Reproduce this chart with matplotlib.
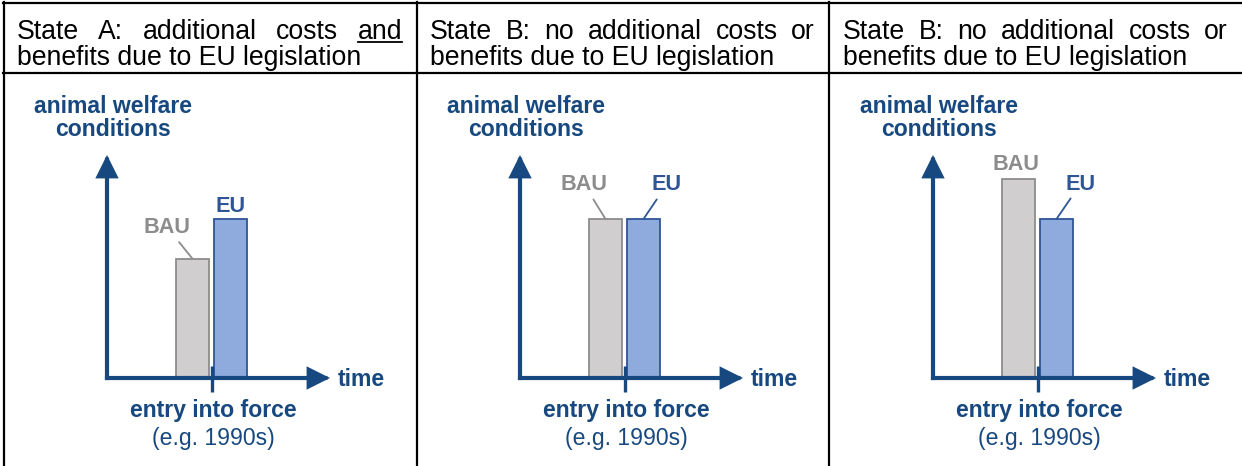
import matplotlib
matplotlib.use('Agg')
import matplotlib.pyplot as plt

plt.rcParams['font.family'] = ['Liberation Sans', 'DejaVu Sans']

# ------ DATA -------
HEAD_LINE1 = ['State A: additional costs and',
              'State B: no additional costs or',
              'State B: no additional costs or']
HEAD_LINE2 = ['benefits due to EU legislation'] * 3
UNDERLINED = ['and', None, None]
SERIES = ['BAU', 'EU']
BAU_LEVEL = [3, 4, 5]   # animal welfare conditions, business as usual
EU_LEVEL = [4, 4, 4]    # animal welfare conditions with EU legislation
Y_LABEL = 'animal welfare\nconditions'
X_LABEL = 'time'
EVENT = 'entry into force'
EVENT_DATE = '(e.g. 1990s)'

# ------ STYLE -------
NAVY = '#17487f'
EU_TXT = '#2f5597'
EU_FILL = '#8faadc'
BAU_TXT = '#8c8c8c'
BAU_FILL = '#d0cece'
W, H = 1242, 466
OFFSETS = [0, 413, 826]
HEAD_FS = 19.2
# label offsets (pixels from bar top centre), and whether a leader line is drawn
BAU_LBL = [((-25, 31), True), ((-21, 34), True), ((-2, 15), False)]
EU_LBL = [((0, 13), False), ((23, 34), True), ((24, 35), True)]

fig = plt.figure(figsize=(W / 100, H / 100), dpi=100)
ax0 = fig.add_axes([0, 0, 1, 1])
ax0.set_xlim(0, W)
ax0.set_ylim(H, 0)
ax0.axis('off')

# table lines
ax0.plot([3, W], [3, 3], color='black', lw=1.6)
ax0.plot([3, W], [73, 73], color='black', lw=1.6)
for x in [4, 417, 829]:
    ax0.plot([x, x], [2, H], color='black', lw=1.6)

renderer = fig.canvas.get_renderer()


def justify(line, x0, x1, y, underline=None):
    """ spreads the words of a line between x0 and x1 """
    words = line.split()
    texts = [ax0.text(0, y, w, fontsize=HEAD_FS, va='baseline', ha='left')
             for w in words]
    widths = [t.get_window_extent(renderer).width for t in texts]
    gap = (x1 - x0 - sum(widths)) / (len(words) - 1)
    x = x0
    for t, wd, word in zip(texts, widths, words):
        t.set_x(x)
        if word == underline:
            ax0.plot([x, x + wd], [y + 3, y + 3], color='black', lw=1.3)
        x += wd + gap


for i, dx in enumerate(OFFSETS):
    justify(HEAD_LINE1[i], 17 + dx, 402 + dx, 39, UNDERLINED[i])
    ax0.text(17 + dx, 65, HEAD_LINE2[i], fontsize=HEAD_FS, va='baseline',
             ha='left')

    # axis labels
    ax0.text(113 + dx, 118, Y_LABEL, fontsize=16.6, fontweight='bold',
             color=NAVY, ha='center', va='center', linespacing=1.0)
    ax0.text(338 + dx, 379, X_LABEL, fontsize=16.6, fontweight='bold',
             color=NAVY, ha='left', va='center')
    ax0.text(213 + dx, 410, EVENT, fontsize=16.6, fontweight='bold',
             color=NAVY, ha='center', va='center')
    ax0.text(213 + dx, 438, EVENT_DATE, fontsize=16.6,
             color=NAVY, ha='center', va='center')

    # panel
    ax = fig.add_axes([(107 + dx) / W, (H - 378) / H, 223 / W, 223 / H])
    xmax, ymax = 223 / 38, 223 / 39.75
    ax.set_xlim(0, xmax)
    ax.set_ylim(0, ymax)
    ax.axis('off')

    xs = [2.25, 3.25]
    vals = [BAU_LEVEL[i], EU_LEVEL[i]]
    ax.bar(xs, vals, width=0.87, color=[BAU_FILL, EU_FILL],
           edgecolor=['#8c8c8c', EU_TXT], linewidth=1.3, zorder=2)

    arrow = dict(arrowstyle='-|>,head_length=0.6,head_width=0.3',
                 lw=3, color=NAVY, shrinkA=0, shrinkB=0,
                 mutation_scale=20, capstyle='projecting',
                 joinstyle='miter')
    ax.annotate('', xy=(xmax, 0), xytext=(0, 0), arrowprops=arrow,
                annotation_clip=False, zorder=3)
    ax.annotate('', xy=(0, ymax), xytext=(0, 0), arrowprops=arrow,
                annotation_clip=False, zorder=3)
    ax.plot([2.76, 2.76], [-14 / 39.75, 12 / 39.75], color=NAVY, lw=2.4,
            clip_on=False, solid_capstyle='butt', zorder=4)

    for name, x, v, (off, lead), col in zip(
            SERIES, xs, vals, [BAU_LBL[i], EU_LBL[i]], [BAU_TXT, EU_TXT]):
        props = dict(arrowstyle='-', color=col, lw=1.3, shrinkA=1,
                     shrinkB=0) if lead else None
        ax.annotate(name, xy=(x, v), xytext=off, textcoords='offset pixels',
                    ha='center', va='center', fontsize=15.6,
                    fontweight='bold', color=col, arrowprops=props,
                    annotation_clip=False)

fig.savefig('out.png', dpi=100)
